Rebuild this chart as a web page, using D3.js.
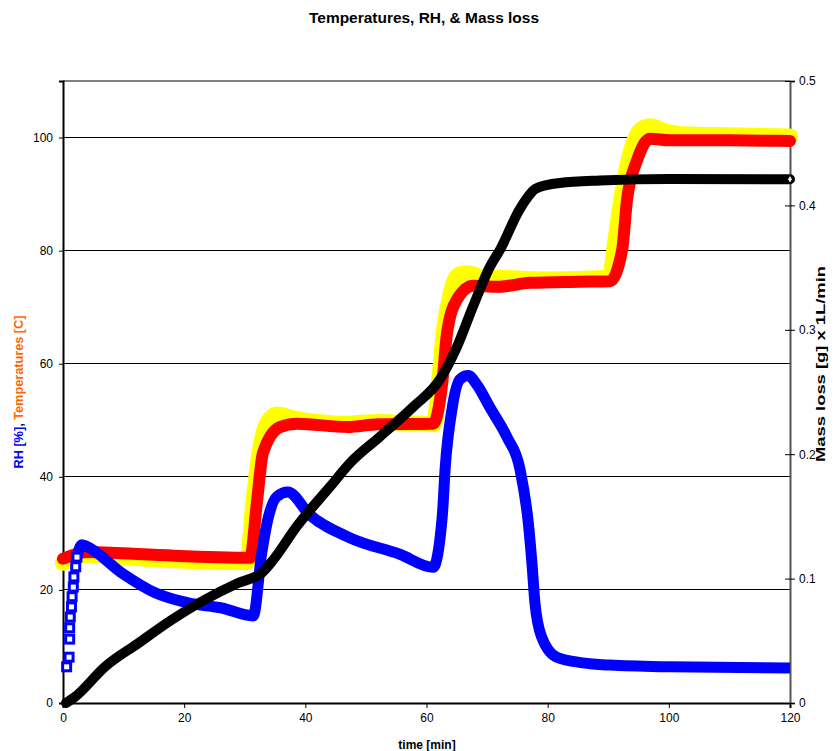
<!DOCTYPE html>
<html>
<head>
<meta charset="utf-8">
<script src="https://cdn.jsdelivr.net/npm/d3@7"></script>
<style>
  body { margin: 0; background: #fff; }
  svg { font-family: "Liberation Sans", Arial, sans-serif; }
</style>
</head>
<body>
<svg width="835" height="751"></svg>
<script>
var svg = d3.select("svg");

// Data: [time min, value]
var tempYellow = [[0,24.8],[4,26.2],[15,25.4],[30.4,24.9],[31.4,35],[32.4,44],[33.5,49],[35.3,51],[38.6,50.2],[47,49.4],[52,49.7],[61.2,49.3],
  [62,56],[62.9,66],[64,72.5],[65.5,75.8],[67,76],[69,75.3],[72,75.2],[80,74.9],[90.2,75.2],[91.2,82],[92.3,90],
  [93.6,97],[95.5,101.5],[97,102],[99,101.2],[102,100.6],[110,100.4],[120,100.2]];
var tempRed = [[0,25.5],[4,26.7],[15,26.2],[30.9,25.7],[32,35.4],[33,44.2],[35.8,48.8],[38.6,49.4],[47,48.8],[52,49.3],[61.1,49.4],
  [62.6,56.6],[63.4,65.5],[65,71.3],[67.7,73.8],[71.6,73.6],[77.1,74.3],[85.3,74.5],[90.3,74.6],[92.3,80.2],[93.1,89],[94.8,96.1],
  [96.9,99.8],[100.2,99.5],[110,99.5],[120,99.4]];
var rh = [[0.6,6.4],[1,8.1],[1.1,11.3],[1.1,13.3],[1.2,15.2],[1.4,17],[1.5,18.8],[1.7,20.5],[1.8,22.3],[2.1,24.1],[2.3,25.8],[3.1,28],
  [3.9,27.7],[9.7,23],[15.2,19.5],[20.7,17.7],[26.2,16.8],[31.4,15.4],[32.8,26.5],[33.8,32.4],[35.3,36.5],[37.1,37.3],[40.8,33.2],
  [47.4,29.2],[55.6,26.3],[61.1,24],[62.6,33],[63.1,41.8],[64.2,51.9],[65.5,57.2],[66.9,57.9],[68.3,56.3],[70.5,52.2],[73.3,47],
  [75.4,41.5],[76.8,31.9],[77.4,24.8],[77.9,17.7],[79,11.7],[81.5,8.1],[85.8,7.1],[90.3,6.7],[100,6.4],[120,6.2]];
var mass = [[0.5,0],[2,0.005],[6.9,0.029],[12.4,0.048],[18,0.067],[23.4,0.083],[28.9,0.0965],[32.8,0.1046],[34.7,0.115],[38.6,0.142],
  [44.1,0.174],[47.4,0.193],[52.3,0.214],[57.8,0.238],[62.2,0.26],[65,0.286],[67.7,0.319],[70.5,0.351],[72.1,0.364],[75.4,0.397],
  [77.9,0.413],[80,0.4165],[82,0.418],[88.6,0.42],[100,0.4212],[120,0.421]];

var leftTicks = [0, 20, 40, 60, 80, 100];
var rightTicks = [0, 0.1, 0.2, 0.3, 0.4, 0.5];
var xTicks = [0, 20, 40, 60, 80, 100, 120];

var x = d3.scaleLinear().domain([0, 120]).range([63, 790]);
var yL = d3.scaleLinear().domain([0, 110]).range([703, 81]);
var yR = d3.scaleLinear().domain([0, 0.5]).range([703, 81]);

// Gridlines
svg.append("g").selectAll("line").data(leftTicks.slice(1)).enter().append("line")
  .attr("x1", 63).attr("x2", 790)
  .attr("y1", function(d) { return yL(d); }).attr("y2", function(d) { return yL(d); })
  .attr("stroke", "#000").attr("stroke-width", 1).attr("shape-rendering", "crispEdges");

// top border
svg.append("line").attr("x1", 63).attr("x2", 790).attr("y1", 81).attr("y2", 81)
  .attr("stroke", "#808080").attr("stroke-width", 2);

// Axes
var ax = svg.append("g").attr("transform", "translate(0,703)")
  .call(d3.axisBottom(x).tickValues(xTicks).tickSize(5).tickPadding(5));
var ayl = svg.append("g").attr("transform", "translate(63,0)")
  .call(d3.axisLeft(yL).tickValues(leftTicks).tickSize(4).tickPadding(6));
var ayr = svg.append("g").attr("transform", "translate(790,0)")
  .call(d3.axisRight(yR).tickValues(rightTicks).tickFormat(d3.format("")).tickSize(5).tickPadding(4));
ayr.selectAll(".tick line").attr("x1", -5);
[ax, ayl, ayr].forEach(function(g) {
  g.selectAll("text").attr("font-size", 12).attr("font-family", "Liberation Sans, Arial, sans-serif").attr("fill", "#000");
  g.select(".domain").attr("stroke-width", 2);
});
ayr.select(".domain").attr("stroke", "#555");

// Series
var line = function(ys) {
  return d3.line().x(function(d) { return x(d[0]); }).y(function(d) { return ys(d[1]); }).curve(d3.curveMonotoneX);
};

svg.append("path").datum(tempYellow).attr("d", line(yL))
  .attr("fill", "none").attr("stroke", "#ffff00").attr("stroke-width", 16)
  .attr("stroke-linejoin", "round").attr("stroke-linecap", "round");
svg.append("path").datum(tempRed).attr("d", line(yL))
  .attr("fill", "none").attr("stroke", "#ff0000").attr("stroke-width", 12)
  .attr("stroke-linejoin", "round").attr("stroke-linecap", "round");
svg.append("path").datum(rh.slice(10)).attr("d", line(yL))
  .attr("fill", "none").attr("stroke", "#0000ff").attr("stroke-width", 11)
  .attr("stroke-linejoin", "round").attr("stroke-linecap", "butt");
// early sparse RH markers
svg.append("g").selectAll("rect").data(rh.slice(0, 11)).enter().append("rect")
  .attr("x", function(d) { return x(d[0]) - 4; }).attr("y", function(d) { return yL(d[1]) - 4; })
  .attr("width", 8).attr("height", 8)
  .attr("fill", "#fff").attr("stroke", "#0000ff").attr("stroke-width", 3);
svg.append("path").datum(mass).attr("d", line(yR))
  .attr("fill", "none").attr("stroke", "#000").attr("stroke-width", 10)
  .attr("stroke-linejoin", "round").attr("stroke-linecap", "round");
// end marker of mass series
var last = mass[mass.length - 1];
svg.append("path").attr("d", d3.symbol().type(d3.symbolDiamond).size(20)())
  .attr("transform", "translate(" + x(last[0]) + "," + yR(last[1]) + ")")
  .attr("fill", "#e0ffff").attr("stroke", "#000").attr("stroke-width", 1);

// Titles
svg.append("text").attr("x", 424).attr("y", 23).attr("text-anchor", "middle")
  .attr("font-size", 15).attr("font-weight", "bold")
  .attr("textLength", 230).attr("lengthAdjust", "spacingAndGlyphs")
  .text("Temperatures, RH, & Mass loss");
svg.append("text").attr("x", 427).attr("y", 749).attr("text-anchor", "middle")
  .attr("font-size", 12).attr("font-weight", "bold").text("time [min]");

var yl = svg.append("text").attr("transform", "translate(23,392) rotate(-90)")
  .attr("text-anchor", "middle").attr("font-size", 12).attr("font-weight", "bold")
  .attr("textLength", 153).attr("lengthAdjust", "spacingAndGlyphs");
yl.append("tspan").attr("fill", "#0000ff").text("RH [%]");
yl.append("tspan").attr("fill", "#000").text(", ");
yl.append("tspan").attr("fill", "#ff6600").text("Temperatures [C]");

svg.append("text").attr("transform", "translate(825,364) rotate(-90)")
  .attr("text-anchor", "middle").attr("font-size", 13).attr("font-weight", "bold")
  .attr("textLength", 196).attr("lengthAdjust", "spacingAndGlyphs")
  .text("Mass loss [g] x 1L/min");
</script>
</body>
</html>
